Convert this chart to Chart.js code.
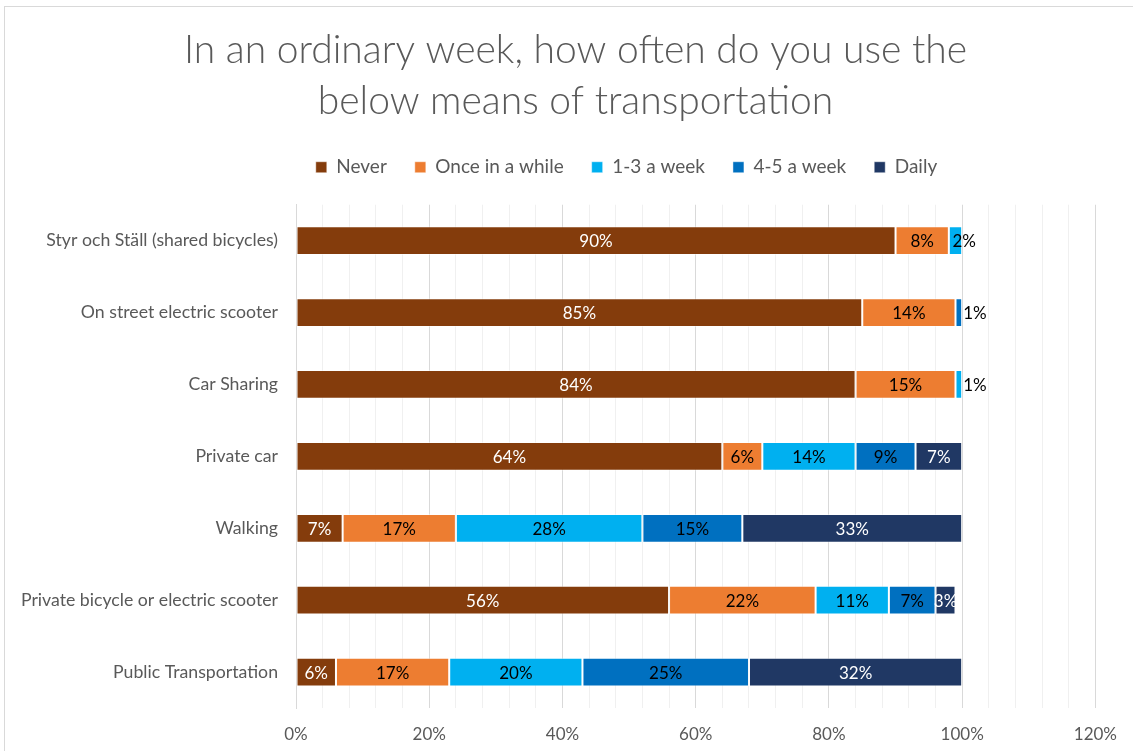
<!DOCTYPE html>
<html>
<head>
<meta charset="utf-8">
<script src="https://cdn.jsdelivr.net/npm/chart.js@4.4.1/dist/chart.umd.min.js"></script>
<style>
  html, body { margin: 0; padding: 0; background: #fff; }
  #wrap { position: relative; width: 1133px; height: 751px; overflow: hidden; }
  #cadre { position: absolute; left: 4px; top: 6px; right: -10px; bottom: -10px;
           border-left: 1px solid #d9d9d9; border-top: 1px solid #d9d9d9; pointer-events: none; }
  canvas { position: absolute; left: 0; top: 0; }
</style>
</head>
<body>
<div id="wrap">
  <canvas id="graphique" width="1133" height="751"></canvas>
  <div id="cadre"></div>
</div>
<script>
// Fréquence d'usage hebdomadaire par mode de transport (parts en %)
const categories = [
  'Styr och Ställ (shared bicycles)',
  'On street electric scooter',
  'Car Sharing',
  'Private car',
  'Walking',
  'Private bicycle or electric scooter',
  'Public Transportation',
]
const never        = [90, 85, 84, 64,  7, 56,  6]
const onceInAWhile = [ 8, 14, 15,  6, 17, 22, 17]
const oneToThree   = [ 2, null, 1, 14, 28, 11, 20]
const fourToFive   = [null, 1, null, 9, 15, 7, 25]
const daily        = [null, null, null, 7, 33, 3, 32]

const xTicks = [0, 20, 40, 60, 80, 100, 120]

const GRIS   = '#595959'
const FONTE  = "Lato, 'Open Sans', sans-serif"

// Étiquettes de valeur au centre de chaque segment ; les segments trop
// étroits reçoivent leur étiquette à droite, en noir.
const etiquettes = {
  id: 'etiquettes',
  afterDatasetsDraw(chart) {
    const { ctx } = chart
    ctx.save()
    ctx.font = `17px ${FONTE}`
    ctx.textBaseline = 'middle'
    chart.data.datasets.forEach((ds, i) => {
      const meta = chart.getDatasetMeta(i)
      meta.data.forEach((bar, j) => {
        const v = ds.data[j]
        if (v == null) return
        const left = Math.min(bar.x, bar.base)
        const right = Math.max(bar.x, bar.base)
        const w = right - left
        const txt = v + '%'
        if (w < 16) {
          ctx.fillStyle = '#000'
          ctx.textAlign = 'left'
          const x = w > 10 ? (left + right) / 2 - 3 : right + 1
          ctx.fillText(txt, x, bar.y + 1)
        } else {
          ctx.fillStyle = ds.labelColor
          ctx.textAlign = 'center'
          ctx.fillText(txt, (left + right) / 2, bar.y + 1)
        }
      })
    })
    ctx.restore()
  },
}

// Titre et légende sont centrés un peu à droite du canevas
const decalages = {
  id: 'decalages',
  afterLayout(chart) {
    const deplacer = (box, dx) => {
      if (!box) return
      box.left += dx
      box.right += dx
    }
    deplacer(chart.titleBlock, 22)
    deplacer(chart.legend, 73)
  },
}

function serie(label, data, color, labelColor) {
  return {
    label, data,
    backgroundColor: color,
    borderColor: 'rgba(255,255,255,0.45)',
    borderWidth: 1,
    borderSkipped: false,
    barPercentage: 0.4,
    categoryPercentage: 1,
    labelColor,
  }
}

new Chart(document.getElementById('graphique').getContext('2d'), {
  type: 'bar',
  data: {
    labels: categories,
    datasets: [
      serie('Never', never, '#843C0C', '#fff'),
      serie('Once in a while', onceInAWhile, '#ED7D31', '#000'),
      serie('1-3 a week', oneToThree, '#00B0F0', '#000'),
      serie('4-5 a week', fourToFive, '#0070C0', '#000'),
      serie('Daily', daily, '#203864', '#fff'),
    ],
  },
  options: {
    indexAxis: 'y',
    responsive: false,
    animation: false,
    devicePixelRatio: 1,
    layout: { padding: { left: 5, right: 31, top: 24, bottom: 6 } },
    plugins: {
      title: {
        display: true,
        text: ['In an ordinary week, how often do you use the', 'below means of transportation'],
        color: GRIS,
        font: { family: FONTE, size: 39, weight: 300, lineHeight: 1.33 },
        padding: { top: 0, bottom: 2 },
      },
      // simple espace vide entre la légende et la zone de tracé
      subtitle: {
        display: true,
        text: '',
        weight: 500,
        font: { size: 1, lineHeight: 1 },
        padding: { top: 0, bottom: 17 },
      },
      legend: {
        position: 'top',
        labels: {
          color: GRIS,
          font: { family: FONTE, size: 19 },
          boxWidth: 11, boxHeight: 11,
          padding: 28,
        },
      },
      tooltip: { enabled: false },
    },
    scales: {
      x: {
        stacked: true,
        min: 0, max: 120,
        ticks: {
          stepSize: 4,
          autoSkip: false,
          maxRotation: 0,
          color: GRIS,
          font: { family: FONTE, size: 17 },
          padding: 16,
          callback: v => xTicks.includes(v) ? v + '%' : '',
        },
        grid: {
          drawTicks: false,
          color: c => xTicks.includes(c.tick.value) ? '#d9d9d9' : '#f0f0f0',
        },
        border: { display: false },
        afterFit(scale) { scale.height = 37 },
      },
      y: {
        stacked: true,
        ticks: {
          color: GRIS,
          font: { family: FONTE, size: 17.7 },
          padding: 18,
        },
        grid: { display: false, drawTicks: false },
        border: { display: true, color: '#d9d9d9' },
        afterFit(scale) { scale.width = 291 },
      },
    },
  },
  plugins: [etiquettes, decalages],
})
</script>
</body>
</html>
